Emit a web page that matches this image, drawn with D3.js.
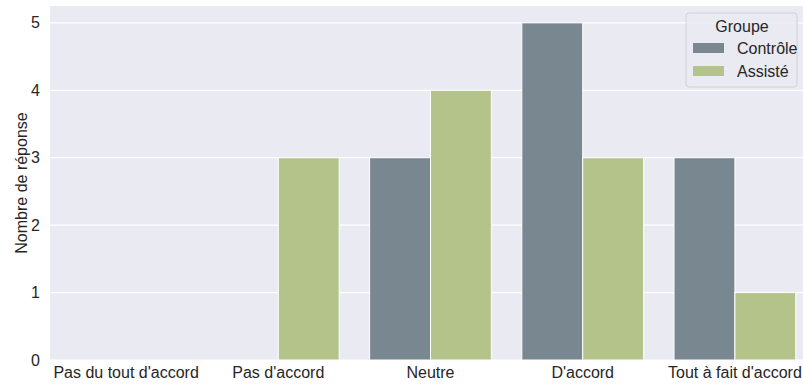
<!DOCTYPE html>
<html>
<head>
<meta charset="utf-8">
<script src="https://cdn.jsdelivr.net/npm/d3@7"></script>
<style>
  body { margin: 0; background: #fff; }
  svg { display: block; font-family: "Liberation Sans", Arial, sans-serif; }
</style>
</head>
<body>
<script>
var categories = ["Pas du tout d'accord", "Pas d'accord", "Neutre", "D'accord", "Tout à fait d'accord"];
var groups = ["Contrôle", "Assisté"];
var controle = [0, 0, 3, 5, 3];
var assiste = [0, 3, 4, 3, 1];
var yTicks = [0, 1, 2, 3, 4, 5];
var colors = ["#798791", "#b4c38a"];

var width = 803, height = 388;
var mLeft = 50, mRight = 811, mTop = 6, mBottom = 360;

var svg = d3.select("body").append("svg")
  .attr("width", width)
  .attr("height", height);

var x = d3.scaleBand().domain(categories).range([mLeft, mRight]).padding(0);
var hue = d3.scaleBand().domain(groups)
  .range([x.step() * 0.1, x.step() * 0.9]).padding(0);
var y = d3.scaleLinear().domain([0, 5.25]).range([mBottom, mTop]);
var color = d3.scaleOrdinal().domain(groups).range(colors);

svg.append("rect")
  .attr("x", mLeft).attr("y", mTop)
  .attr("width", mRight - mLeft).attr("height", mBottom - mTop)
  .attr("fill", "#eaeaf2");

// grid
svg.append("g").selectAll("line")
  .data(yTicks)
  .enter().append("line")
  .attr("x1", mLeft).attr("x2", mRight)
  .attr("y1", d => y(d)).attr("y2", d => y(d))
  .attr("stroke", "#fff")
  .attr("stroke-width", 1.2);

var rows = [];
categories.forEach(function(c, i) {
  rows.push({ cat: c, group: groups[0], value: controle[i] });
  rows.push({ cat: c, group: groups[1], value: assiste[i] });
});

svg.append("g").selectAll("rect")
  .data(rows.filter(d => d.value > 0))
  .enter().append("rect")
  .attr("x", d => x(d.cat) + hue(d.group))
  .attr("width", hue.bandwidth())
  .attr("y", d => y(d.value))
  .attr("height", d => y(0) - y(d.value))
  .attr("fill", d => color(d.group))
  .attr("stroke", "#fff")
  .attr("stroke-width", 1);

// y axis
var yAxis = svg.append("g")
  .attr("transform", "translate(" + mLeft + ",0)")
  .call(d3.axisLeft(y).tickValues(yTicks).tickFormat(d3.format("d")).tickSize(0).tickPadding(10));
yAxis.select(".domain").remove();
yAxis.selectAll("text")
  .attr("fill", "#262626")
  .style("font-size", "16px");

// x axis
var xAxis = svg.append("g")
  .attr("transform", "translate(0," + mBottom + ")")
  .call(d3.axisBottom(x).tickSize(0).tickPadding(7));
xAxis.select(".domain").remove();
xAxis.selectAll("text")
  .attr("fill", "#262626")
  .style("font-size", "16px");

svg.append("text")
  .attr("transform", "translate(27," + ((mTop + mBottom) / 2) + ") rotate(-90)")
  .attr("text-anchor", "middle")
  .attr("fill", "#262626")
  .style("font-size", "16px")
  .text("Nombre de réponse");

// legend
var lg = svg.append("g").attr("transform", "translate(686,13)");
lg.append("rect")
  .attr("width", 111).attr("height", 74)
  .attr("rx", 3)
  .attr("fill", "#eaeaf2").attr("fill-opacity", 0.8)
  .attr("stroke", "#cccccc").attr("stroke-width", 0.8);
lg.append("text")
  .attr("x", 56).attr("y", 19)
  .attr("text-anchor", "middle")
  .attr("fill", "#262626")
  .style("font-size", "16px")
  .text("Groupe");
var item = lg.selectAll(".item")
  .data(groups)
  .enter().append("g")
  .attr("transform", (d, i) => "translate(0," + (30 + i * 23) + ")");
item.append("rect")
  .attr("x", 7).attr("width", 31).attr("height", 10)
  .attr("fill", d => color(d));
item.append("text")
  .attr("x", 51).attr("y", 11)
  .attr("fill", "#262626")
  .style("font-size", "16px")
  .text(d => d);
</script>
</body>
</html>
